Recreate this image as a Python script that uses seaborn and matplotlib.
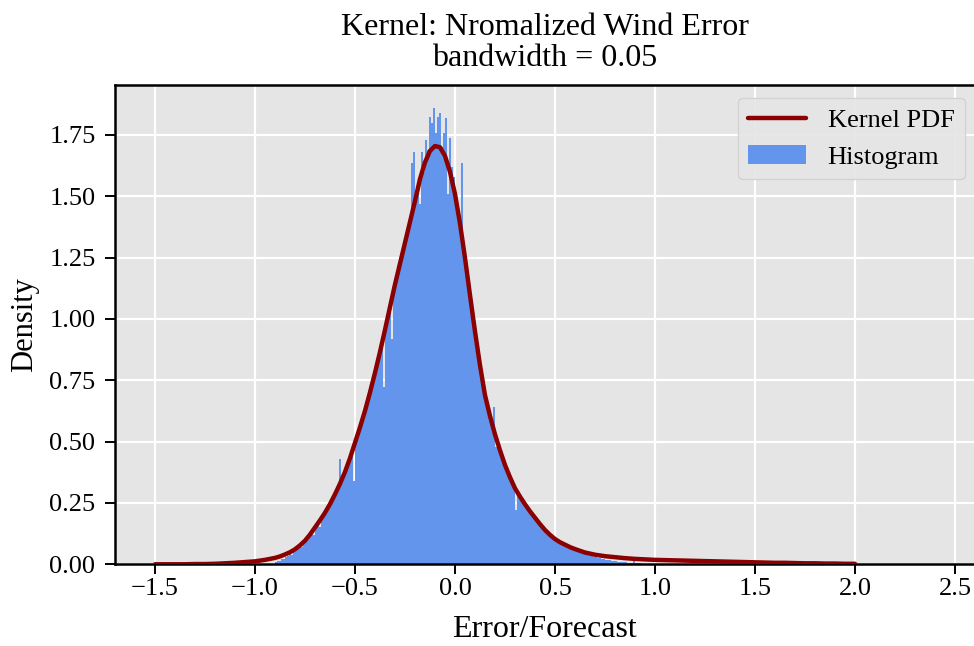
import numpy as np
import pandas as pd
import matplotlib
matplotlib.use("Agg")
import matplotlib.pyplot as plt
import seaborn as sns

# ---- data ----
# histogram: density per bin, bins of width 0.01 starting at -0.90
hist_start = -0.90
hist_width = 0.01
hist_density = [
    0.010, 0.015, 0.012, 0.020, 0.022, 0.030, 0.035, 0.041, 0.038, 0.052,
    0.060, 0.066, 0.078, 0.072, 0.088, 0.112, 0.098, 0.125, 0.140, 0.118,
    0.160, 0.172, 0.150, 0.190, 0.205, 0.215, 0.232, 0.250, 0.262, 0.275,
    0.300, 0.318, 0.430, 0.345, 0.360, 0.390, 0.410, 0.432, 0.462, 0.340,
    0.505, 0.530, 0.555, 0.575, 0.600, 0.650, 0.672, 0.700, 0.730, 0.755,
    0.800, 0.835, 0.860, 0.900, 0.724, 0.975, 1.010, 1.045, 0.920, 1.110,
    1.160, 1.190, 1.225, 1.260, 1.285, 1.335, 1.370, 1.400, 1.635, 1.682,
    1.520, 1.540, 1.470, 1.682, 1.600, 1.730, 1.690, 1.825, 1.800, 1.859,
    1.760, 1.825, 1.838, 1.700, 1.760, 1.818, 1.510, 1.737, 1.620, 1.580,
    1.500, 1.450, 1.390, 1.635, 1.300, 1.240, 1.180, 1.120, 1.060, 1.000,
    0.930, 0.870, 0.815, 0.765, 0.720, 0.680, 0.645, 0.610, 0.580, 0.640,
    0.480, 0.505, 0.480, 0.455, 0.430, 0.405, 0.385, 0.365, 0.345, 0.325,
    0.220, 0.295, 0.280, 0.265, 0.252, 0.240, 0.228, 0.215, 0.205, 0.195,
    0.180, 0.170, 0.160, 0.150, 0.140, 0.132, 0.122, 0.115, 0.108, 0.100,
    0.095, 0.090, 0.086, 0.082, 0.078, 0.072, 0.068, 0.065, 0.062, 0.058,
    0.055, 0.052, 0.048, 0.046, 0.042, 0.040, 0.036, 0.034, 0.032, 0.030,
    0.028, 0.026, 0.024, 0.022, 0.020, 0.018, 0.017, 0.016, 0.014, 0.013,
    0.012, 0.011, 0.010, 0.010, 0.009, 0.008, 0.007, 0.007, 0.006, 0.012,
    0.005, 0.004, 0.004, 0.003, 0.003, 0.003, 0.002, 0.002, 0.002, 0.001,
]

# kernel PDF curve (denser where it bends)
kde_x = [
    -1.50, -1.45, -1.40, -1.35, -1.30, -1.25, -1.20, -1.15, -1.10, -1.05,
    -1.000, -0.975, -0.950, -0.925, -0.900, -0.875, -0.850, -0.825,
    -0.800, -0.775, -0.750, -0.725, -0.700, -0.675, -0.650, -0.625,
    -0.600, -0.575, -0.550, -0.525, -0.500, -0.475, -0.450, -0.425,
    -0.400, -0.375, -0.350, -0.325, -0.300, -0.275, -0.250, -0.225,
    -0.200, -0.175, -0.150, -0.125, -0.100, -0.075, -0.050, -0.025,
    0.000, 0.025, 0.050, 0.075, 0.100, 0.125, 0.150, 0.175,
    0.200, 0.225, 0.250, 0.275, 0.300, 0.325, 0.350, 0.375,
    0.400, 0.425, 0.450, 0.475, 0.500, 0.525, 0.550, 0.575,
    0.600, 0.650, 0.700, 0.750, 0.800, 0.850, 0.900, 0.950,
    1.00, 1.05, 1.10, 1.15, 1.20, 1.25, 1.30, 1.35, 1.40, 1.45,
    1.50, 1.55, 1.60, 1.65, 1.70, 1.75, 1.80, 1.85, 1.90, 1.95, 2.00,
]
kde_y = [
    0.000, 0.000, 0.000, 0.000, 0.001, 0.001, 0.002, 0.004, 0.006, 0.009,
    0.012, 0.015, 0.018, 0.022, 0.026, 0.032, 0.040, 0.049,
    0.061, 0.077, 0.096, 0.121, 0.150, 0.179, 0.210, 0.245,
    0.285, 0.328, 0.376, 0.432, 0.495, 0.558, 0.625, 0.700,
    0.780, 0.865, 0.955, 1.048, 1.140, 1.225, 1.310, 1.395,
    1.480, 1.570, 1.638, 1.685, 1.705, 1.700, 1.665, 1.600,
    1.510, 1.390, 1.250, 1.098, 0.950, 0.812, 0.690, 0.605,
    0.530, 0.465, 0.405, 0.355, 0.310, 0.276, 0.245, 0.216,
    0.190, 0.164, 0.140, 0.120, 0.103, 0.090, 0.080, 0.070,
    0.062, 0.048, 0.039, 0.033, 0.029, 0.025, 0.022, 0.020,
    0.018, 0.017, 0.016, 0.015, 0.014, 0.013, 0.012, 0.011, 0.010, 0.009,
    0.008, 0.007, 0.006, 0.006, 0.005, 0.004, 0.004, 0.003, 0.003, 0.002, 0.002,
]

title_text = "Kernel: Nromalized Wind Error\nbandwidth = 0.05"
x_label = "Error/Forecast"
y_label = "Density"
x_ticks = [-1.5, -1.0, -0.5, 0.0, 0.5, 1.0, 1.5, 2.0, 2.5]
y_ticks = [0.00, 0.25, 0.50, 0.75, 1.00, 1.25, 1.50, 1.75]

# ---- style ----
sns.set_style("darkgrid", {
    "axes.facecolor": "#E5E5E5",
    "grid.color": "white",
    "axes.edgecolor": "black",
    "axes.labelcolor": "black",
    "text.color": "black",
    "xtick.color": "black",
    "ytick.color": "black",
    "xtick.bottom": True,
    "ytick.left": True,
})
plt.rcParams["font.family"] = ["Liberation Serif", "DejaVu Serif"]
plt.rcParams["axes.unicode_minus"] = True

fig = plt.figure(figsize=(9.74, 6.46), dpi=100)
ax = fig.add_axes([0.118, 0.1265, 0.882, 0.742])

n = len(hist_density)
edges = [round(hist_start + hist_width * i, 4) for i in range(n + 1)]
centers = [e + hist_width / 2 for e in edges[:-1]]
hdf = pd.DataFrame({"x": centers, "w": hist_density})
sns.histplot(data=hdf, x="x", weights="w", bins=edges, stat="count",
             color="cornflowerblue", alpha=1.0, linewidth=0, ax=ax,
             label="Histogram", zorder=2)

kdf = pd.DataFrame({"x": kde_x, "y": kde_y})
sns.lineplot(data=kdf, x="x", y="y", color="#8B0000", linewidth=3.2,
             ax=ax, label="Kernel PDF", zorder=3)

ax.set_xlim(-1.70, 2.595)
ax.set_ylim(0, 1.954)
ax.set_xticks(x_ticks)
ax.set_yticks(y_ticks)
ax.set_yticklabels([f"{v:.2f}" for v in y_ticks])
ax.grid(True, color="white", linewidth=1.6)
ax.set_axisbelow(True)

for s in ["left", "bottom", "top"]:
    ax.spines[s].set_visible(True)
    ax.spines[s].set_color("black")
    ax.spines[s].set_linewidth(1.8)
ax.spines["right"].set_visible(False)

ax.tick_params(axis="both", which="major", labelsize=19, length=7,
               width=1.4, color="black", direction="out")
ax.tick_params(axis="x", pad=3)
ax.tick_params(axis="y", pad=7)

ax.set_xlabel(x_label, fontsize=23, labelpad=11)
ax.set_ylabel(y_label, fontsize=22, labelpad=7)
ax.set_title(title_text, fontsize=23, linespacing=1.05, pad=14)

handles, labels = ax.get_legend_handles_labels()
order = [labels.index("Kernel PDF"), labels.index("Histogram")]
leg = ax.legend([handles[i] for i in order], [labels[i] for i in order],
                loc="upper right", fontsize=19, frameon=True,
                bbox_to_anchor=(0.9895, 0.973), borderaxespad=0,
                handlelength=2.2)
leg.get_frame().set_facecolor("#E5E5E5")
leg.get_frame().set_edgecolor("#D0D0D0")
leg.get_frame().set_alpha(0.9)

fig.savefig("out.png", dpi=100)
